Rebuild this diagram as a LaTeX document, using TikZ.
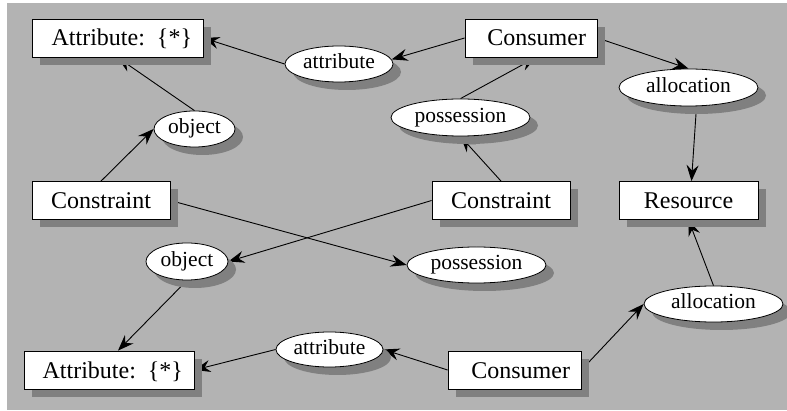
\documentclass[tikz,border=0pt]{standalone}
\usepackage{fontspec}
\setmainfont{Liberation Serif}
\usetikzlibrary{arrows.meta,shapes.geometric,shadows}
\definecolor{paperGray}{RGB}{179,179,179}
\definecolor{shadeGray}{RGB}{128,128,128}
\pgfdeclarelayer{paper}
\pgfdeclarelayer{links}
\pgfsetlayers{paper,links,main}
\tikzset{
  castshadow/.style={drop shadow={shadow xshift=8pt,shadow yshift=-8pt,fill=shadeGray,opacity=1}},
  entity/.style={rectangle,draw=black,line width=0.8pt,fill=white,castshadow,
    inner ysep=0pt,minimum height=38pt,text height=18pt,text depth=2pt,
    font=\fontsize{24}{28}\selectfont},
  rentity/.style={entity,inner xsep=11pt,text width=#1,align=right},
  centity/.style={entity,inner xsep=0pt,minimum width=#1,align=center},
  rel/.style={ellipse,draw=black,line width=0.8pt,fill=white,castshadow,
    inner sep=0pt,text height=15pt,text depth=5pt,
    font=\fontsize{21.5}{25}\selectfont},
  link/.style={draw=black,line width=0.9pt,-{Stealth[length=16pt,width=12pt,inset=5.5pt]}},
}
\begin{document}
\begin{tikzpicture}[x=1pt,y=-1pt]
\useasboundingbox (0,0) rectangle (787,411);
\begin{pgfonlayer}{paper}
  \fill[paperGray] (7,3) rectangle (787,410);
\end{pgfonlayer}

% entity boxes
\node[rentity=149pt] (attrT) at (117.5,38) {Attribute: \{*\}};
\node[rentity=110pt] (consT) at (531,38) {Consumer};
\node[centity=138pt] (consL) at (101,200.5) {Constraint};
\node[centity=138pt] (consM) at (501,200.5) {Constraint};
\node[centity=139pt] (res) at (688.5,200.5) {Resource};
\node[rentity=148pt] (attrB) at (109,370) {Attribute: \{*\}};
\node[rentity=111pt] (consB) at (514.5,370) {Consumer};

% relation ovals
\node[rel,minimum width=108pt,minimum height=36pt] (attT) at (339,64) {attribute};
\node[rel,minimum width=81pt,minimum height=36pt] (objT) at (194.5,129) {object};
\node[rel,minimum width=139pt,minimum height=37pt] (posT) at (460.5,117.5) {possession};
\node[rel,minimum width=139pt,minimum height=37pt] (allT) at (688.5,87.5) {allocation};
\node[rel,minimum width=82pt,minimum height=37pt] (objB) at (187,261.5) {object};
\node[rel,minimum width=139pt,minimum height=36pt] (posB) at (476.5,265) {possession};
\node[rel,minimum width=107pt,minimum height=35pt] (attB) at (329.5,349.5) {attribute};
\node[rel,minimum width=139pt,minimum height=36pt] (allB) at (713.5,304) {allocation};

% connectors, kept beneath the shadows
\begin{pgfonlayer}{links}
  \draw[link] (consT.west) -- (attT.5);
  \draw[link] (attT.west) -- (attrT.east);
  \draw[link] (objT.north) -- (attrT.south);
  \draw[link] (consL.north) -- (objT.west);
  \draw[link] (consL.east) -- (posB.west);
  \draw[link] (consM.west) -- (objB.east);
  \draw[link] (consM.north) -- (posT.south);
  \draw[link] (posT.north) -- ([xshift=5pt]consT.south);
  \draw[link] (consT.east) -- (allT.north);
  \draw[link] ([xshift=8pt]allT.south) -- ([xshift=3pt]res.north);
  \draw[link] (consB.east) -- (allB.west);
  \draw[link] (allB.north) -- (res.south);
  \draw[link] (consB.west) -- (attB.east);
  \draw[link] (attB.west) -- (attrB.east);
  \draw[link] (objB.south) -- ([xshift=9pt]attrB.north);
\end{pgfonlayer}
\end{tikzpicture}
\end{document}
